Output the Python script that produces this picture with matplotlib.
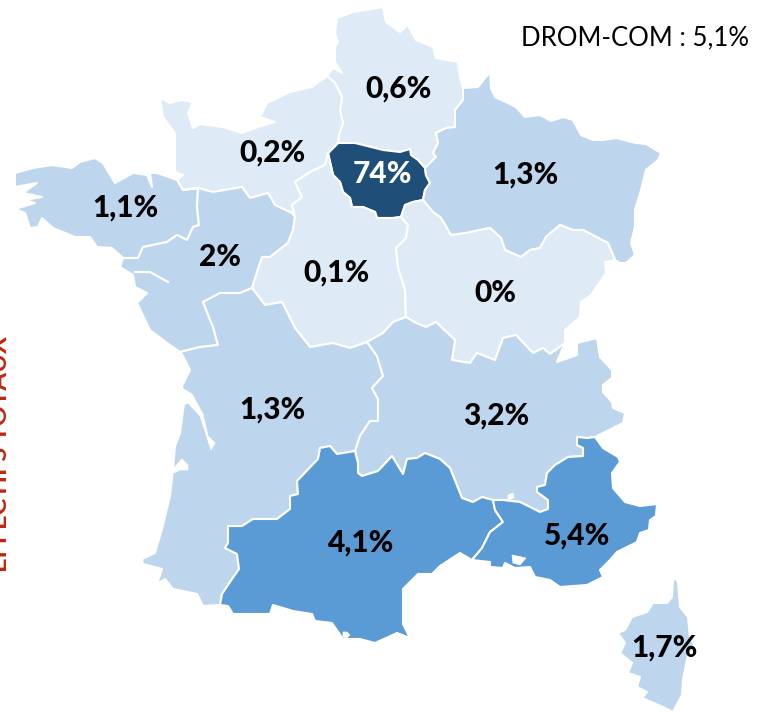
import matplotlib
matplotlib.use("Agg")
import matplotlib.pyplot as plt
from matplotlib.patches import Polygon

# ---- data ----
regions = ["Hauts-de-France", "Normandie", "Ile-de-France", "Grand Est", "Bretagne",
           "Pays de la Loire", "Centre-Val de Loire", "Bourgogne-Franche-Comte",
           "Nouvelle-Aquitaine", "Auvergne-Rhone-Alpes", "Occitanie", "PACA", "Corse"]
labels = ["0,6%", "0,2%", "74%", "1,3%", "1,1%", "2%", "0,1%", "0%", "1,3%", "3,2%", "4,1%", "5,4%", "1,7%"]
shares = [0.6, 0.2, 74, 1.3, 1.1, 2, 0.1, 0, 1.3, 3.2, 4.1, 5.4, 1.7]
label_xy = [(399, 89), (272, 153), (382, 174), (525, 175), (125, 208), (220, 257), (337, 273),
            (495, 293), (272, 410), (496, 416), (361, 543), (577, 536), (664, 648)]
note = "DROM-COM : 5,1%"
side_title = "EFFECTIFS TOTAUX"

# shared borders (picture pixels)
idf_north = [(338, 143), (355, 143), (367, 146), (383, 150), (400, 152), (410, 149), (411, 155), (418, 160), (425, 168)]
idf_east = [(425, 168), (426, 175), (430, 183), (425, 190), (423, 200)]
idf_se = [(423, 200), (413, 202), (405, 205), (401, 217)]
idf_sw = [(401, 217), (393, 218), (383, 218), (377, 218), (375, 212), (363, 207), (352, 207), (350, 198),
          (343, 192), (340, 182), (333, 175), (328, 153), (338, 143)]
nor_hdf = [(327, 76), (335, 83), (342, 97), (340, 110), (343, 123), (339, 135), (338, 143)]
hdf_ge = [(463, 88), (463, 100), (455, 110), (455, 127), (446, 128), (436, 133), (438, 143), (433, 153),
          (436, 157), (425, 168)]
ge_bfc = [(423, 200), (433, 212), (441, 218), (451, 235), (466, 233), (480, 230), (490, 228), (501, 238),
          (505, 250), (521, 257), (530, 250), (540, 248), (546, 237), (560, 225), (573, 230), (583, 230),
          (608, 243), (610, 248), (615, 260)]
bfc_cvl = [(401, 217), (408, 225), (406, 238), (396, 248), (398, 267), (405, 290), (406, 317)]
bfc_aura = [(406, 317), (416, 323), (426, 327), (436, 322), (455, 340), (452, 360), (470, 363), (477, 353),
            (495, 360), (503, 338), (516, 335), (533, 353), (543, 348), (550, 354), (565, 343)]
nor_cvl = [(295, 217), (292, 205), (302, 197), (295, 182), (310, 172), (325, 165), (328, 153)]
nor_pdl = [(183, 190), (198, 188), (213, 192), (242, 187), (250, 198), (268, 193), (275, 205), (292, 213), (295, 217)]
bre_nor = [(177, 180), (183, 190), (198, 188)]
bre_pdl = [(123, 258), (138, 258), (143, 247), (167, 242), (177, 235), (187, 240), (193, 227), (199, 225),
           (197, 207), (198, 188)]
pdl_cvl = [(295, 217), (293, 230), (288, 243), (270, 257), (262, 257), (252, 288)]
pdl_naq = [(180, 352), (200, 347), (218, 345), (213, 327), (203, 302), (220, 293), (240, 293), (252, 288)]
cvl_naq = [(252, 288), (265, 305), (282, 302), (295, 328), (310, 347), (333, 343), (350, 348), (367, 342)]
cvl_aura = [(367, 342), (383, 333), (393, 322), (406, 317)]
naq_aura = [(367, 342), (377, 356), (383, 376), (372, 388), (378, 399), (378, 421), (370, 421), (360, 436), (355, 451)]
naq_occ = [(355, 451), (337, 454), (330, 446), (320, 448), (318, 459), (297, 481), (298, 494), (290, 496),
           (290, 509), (277, 519), (253, 519), (242, 526), (228, 526), (228, 543), (225, 548), (237, 554),
           (239, 569), (230, 582), (222, 594), (220, 605)]
occ_aura = [(355, 451), (358, 463), (358, 473), (362, 476), (378, 471), (392, 456), (403, 474), (407, 459),
            (417, 458), (425, 453), (440, 459), (450, 468), (462, 498), (473, 502), (482, 497), (493, 500)]
occ_paca = [(493, 500), (495, 510), (503, 522), (490, 532), (482, 548), (472, 560)]
aura_paca = [(493, 500), (503, 500), (520, 502), (540, 512), (548, 509), (548, 500), (537, 492), (537, 487),
             (545, 485), (547, 473), (555, 465), (568, 457), (583, 456), (583, 448), (577, 445), (577, 437),
             (587, 438), (595, 437)]

# coasts and land borders
hdf_coast = [(327, 76), (333, 68), (342, 73), (335, 62), (335, 47), (338, 42), (335, 33), (337, 18), (353, 12),
             (383, 7), (386, 22), (400, 32), (408, 25), (416, 40), (433, 47), (436, 58), (458, 62), (460, 78), (463, 88)]
ge_border = [(463, 88), (478, 87), (490, 72), (491, 88), (495, 97), (516, 107), (525, 117), (540, 115), (551, 121),
             (563, 117), (573, 120), (581, 135), (593, 140), (603, 140), (616, 138), (636, 143), (646, 144),
             (661, 153), (658, 160), (646, 170), (641, 190), (635, 210), (635, 227), (631, 243), (635, 255),
             (626, 263), (620, 263), (615, 260)]
bfc_border = [(615, 260), (605, 262), (606, 273), (591, 295), (581, 302), (580, 317), (565, 330), (565, 343)]
nor_coast = [(177, 180), (183, 175), (175, 172), (175, 133), (163, 117), (160, 98), (170, 103), (182, 100),
             (193, 102), (188, 113), (193, 128), (200, 124), (223, 127), (242, 133), (258, 127), (275, 122),
             (260, 117), (267, 103), (290, 92), (312, 87), (327, 76)]
bre_coast = [(123, 258), (112, 248), (97, 247), (90, 237), (75, 237), (53, 228), (42, 218), (38, 227), (30, 228),
             (25, 213), (15, 209), (35, 203), (25, 200), (42, 197), (23, 193), (37, 183), (15, 187), (15, 173),
             (33, 168), (52, 165), (72, 168), (80, 162), (95, 158), (103, 163), (115, 183), (133, 173),
             (147, 175), (152, 187), (150, 173), (157, 173), (177, 180)]
pdl_coast = [(180, 352), (167, 343), (150, 330), (137, 303), (147, 293), (135, 287), (133, 275), (120, 267), (123, 258)]
naq_coast = [(220, 605), (203, 606), (197, 594), (173, 589), (165, 579), (157, 584), (162, 569), (143, 564),
             (142, 559), (155, 553), (162, 529), (170, 496), (173, 469), (175, 446), (180, 433), (184, 403),
             (182, 386), (190, 370), (183, 356), (180, 352)]
aura_border = [(565, 343), (557, 362), (577, 355), (577, 343), (597, 338), (600, 357), (612, 370), (612, 378),
               (603, 385), (603, 392), (612, 402), (613, 408), (625, 413), (623, 423), (595, 437)]
occ_coast = [(472, 560), (460, 553), (440, 566), (432, 574), (418, 574), (403, 589), (403, 624), (410, 638),
             (397, 633), (375, 643), (360, 639), (343, 639), (332, 623), (315, 621), (312, 614), (293, 611),
             (273, 605), (270, 614), (253, 614), (233, 614), (228, 606), (220, 605)]
paca_coast = [(595, 437), (603, 448), (618, 457), (620, 462), (612, 473), (613, 488), (625, 502), (640, 506),
              (657, 504), (656, 516), (650, 520), (649, 530), (640, 533), (637, 542), (617, 552), (610, 560),
              (600, 570), (603, 577), (587, 585), (560, 587), (550, 580), (535, 577), (530, 567), (515, 568),
              (505, 563), (503, 568), (490, 567), (490, 562), (472, 560)]
corse_outline = [(675, 578), (678, 582), (680, 607), (688, 617), (690, 637), (695, 647), (688, 655), (683, 680),
                 (682, 695), (673, 712), (663, 707), (642, 698), (647, 692), (637, 687), (640, 677), (628, 673),
                 (632, 663), (620, 653), (625, 643), (618, 633), (625, 630), (632, 617), (647, 612), (653, 603),
                 (667, 603), (672, 597), (673, 580)]

# white water bodies
gironde = [(182, 388), (192, 394), (203, 414), (208, 436), (215, 443), (211, 450), (205, 431), (200, 416), (188, 403), (183, 406)]
arcachon = [(173, 469), (182, 459), (188, 465), (188, 470), (180, 470), (174, 473)]
berre = [(512, 555), (526, 558), (520, 565), (513, 563)]
vaccares = [(508, 495), (513, 493), (514, 498), (508, 500)]
leucate = [(343, 632), (347, 632), (350, 635), (347, 638), (343, 637)]
loire = [(135, 272), (150, 272), (168, 282)]

def rev(seq):
    return list(seq)[::-1]

outlines = [
    hdf_coast + hdf_ge + rev(idf_north) + rev(nor_hdf),
    nor_coast + nor_hdf + rev(idf_sw[-2:]) + rev(nor_cvl) + rev(nor_pdl) + rev(bre_nor[:2]),
    idf_north + idf_east + idf_se + idf_sw,
    ge_border + rev(ge_bfc) + rev(idf_east) + rev(hdf_ge),
    bre_coast + bre_nor + rev(bre_pdl),
    bre_pdl + nor_pdl + pdl_cvl + rev(pdl_naq) + pdl_coast,
    nor_cvl + rev(idf_sw) + bfc_cvl + rev(cvl_aura) + rev(cvl_naq) + rev(pdl_cvl),
    idf_se + bfc_cvl + bfc_aura + rev(bfc_border) + rev(ge_bfc),
    pdl_naq + cvl_naq + naq_aura + naq_occ + naq_coast,
    cvl_aura + bfc_aura + aura_border + rev(aura_paca) + rev(occ_aura) + rev(naq_aura),
    occ_aura + occ_paca + occ_coast + rev(naq_occ),
    aura_paca + paca_coast + rev(occ_paca),
    corse_outline,
]

def shade(v):
    if v >= 50:
        return "#1F4E79"
    if v >= 4:
        return "#5B9BD5"
    if v >= 1:
        return "#BDD6EE"
    return "#DEEAF6"

plt.rcParams["font.family"] = ["Lato", "DejaVu Sans"]
fig = plt.figure(figsize=(7.66, 7.12), dpi=100)
ax = fig.add_axes([0, 0, 1, 1])
ax.set_xlim(0, 766)
ax.set_ylim(712, 0)
ax.axis("off")

for outline, value in zip(outlines, shares):
    ax.add_patch(Polygon(outline, closed=True, facecolor=shade(value), edgecolor="white", linewidth=1.5,
                         joinstyle="round", zorder=2))
for water in (gironde, arcachon, berre, vaccares, leucate):
    ax.add_patch(Polygon(water, closed=True, facecolor="white", edgecolor="white", linewidth=0.5, zorder=3))
ax.plot(*zip(*loire), color="white", lw=1.6, zorder=3)

for text, (x, y), value in zip(labels, label_xy, shares):
    ax.text(x, y, text, ha="center", va="center", fontsize=21.5, fontweight="black",
            color="white" if value >= 50 else "black", zorder=4)

ax.text(749, 38, note, ha="right", va="center", fontsize=18.5, color="black", zorder=4)
ax.text(7, 453.5, side_title, rotation=90, rotation_mode="anchor", ha="center", va="baseline", fontsize=18.3,
        fontweight="bold", color="#C0280F", zorder=4, clip_on=False)

fig.savefig("out.png", dpi=100)
